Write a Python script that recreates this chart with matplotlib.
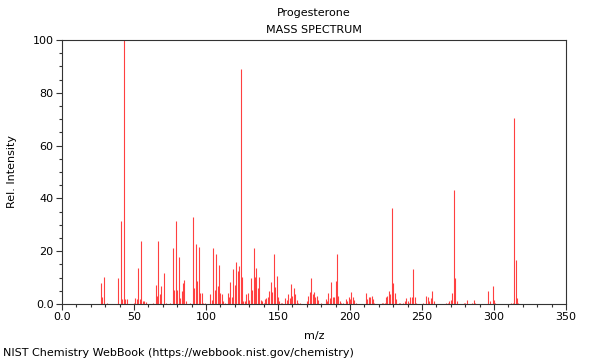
import matplotlib
matplotlib.use("Agg")
import matplotlib.pyplot as plt
from matplotlib.ticker import MultipleLocator, FixedLocator, FixedFormatter

# m/z and relative intensity
mz = [27, 28, 29, 31, 39, 41, 42, 43, 44, 45, 50, 51, 52, 53, 54, 55, 56, 57, 58,
      63, 65, 66, 67, 68, 69, 71, 72, 75, 77, 78, 79, 80, 81, 82, 83, 84, 85, 86,
      89, 91, 92, 93, 94, 95, 96, 97, 98, 99, 103, 104, 105, 106, 107, 108, 109,
      110, 111, 112, 113, 115, 116, 117, 118, 119, 120, 121, 122, 123, 124, 125,
      126, 127, 128, 129, 130, 131, 132, 133, 134, 135, 136, 137, 138, 139, 140,
      141, 142, 143, 144, 145, 146, 147, 148, 149, 150, 151, 152, 153, 155, 156,
      157, 158, 159, 160, 161, 162, 163, 164, 165, 170, 171, 172, 173, 174, 175,
      176, 177, 178, 180, 183, 184, 185, 186, 187, 188, 189, 190, 191, 192, 193,
      194, 195, 197, 198, 199, 200, 201, 202, 203, 204, 211, 212, 213, 214, 215,
      216, 217, 222, 223, 224, 225, 226, 227, 228, 229, 230, 231, 232, 234, 235,
      237, 238, 239, 240, 241, 242, 243, 244, 245, 246, 251, 253, 254, 255, 256,
      257, 258, 267, 268, 269, 270, 271, 272, 273, 274, 279, 280, 281, 285, 286,
      287, 296, 297, 299, 300, 301, 312, 313, 314, 315, 316, 317]
intensity = [7.8, 2.8, 10.1, 0.5, 9.8, 31.6, 2.0, 100, 2.0, 2.0, 0.5, 2.3, 2.0, 13.6,
             2.0, 24.0, 1.0, 1.0, 0.8, 0.5, 7.3, 3.0, 23.7, 3.8, 6.8, 11.6, 0.5, 0.5,
             21.2, 5.3, 31.6, 5.3, 17.7, 2.3, 4.8, 7.8, 9.1, 1.0, 0.5, 33.0, 6.0,
             22.7, 8.6, 21.7, 4.0, 4.0, 0.5, 0.5, 3.8, 1.5, 21.2, 5.3, 18.9, 6.8,
             14.6, 4.0, 3.8, 1.0, 0.5, 4.3, 2.5, 8.3, 2.8, 13.4, 7.3, 15.9, 12.6,
             14.4, 88.9, 10.3, 1.0, 1.0, 3.8, 4.0, 1.5, 9.8, 5.3, 21.2, 10.1, 13.6,
             6.0, 10.1, 1.5, 1.0, 0.5, 2.0, 2.3, 2.5, 4.8, 8.3, 4.5, 19.0, 6.3, 10.6,
             2.5, 1.0, 0.5, 0.5, 2.3, 1.5, 3.8, 2.3, 7.6, 3.0, 6.0, 3.8, 1.5, 0.5,
             0.5, 1.0, 3.2, 4.5, 9.8, 3.8, 4.5, 2.5, 3.2, 1.5, 0.5, 2.0, 1.0, 4.0,
             2.3, 8.3, 2.8, 2.8, 8.6, 19.0, 3.2, 1.0, 0.5, 0.5, 2.0, 1.0, 2.5, 2.0,
             4.5, 2.8, 1.5, 0.5, 4.0, 2.0, 2.8, 2.5, 3.0, 2.0, 0.5, 0.5, 0.5, 0.5,
             2.5, 3.0, 4.8, 3.8, 36.4, 7.8, 4.3, 2.0, 0.5, 0.5, 0.5, 1.0, 2.3, 1.0,
             0.5, 2.8, 2.8, 13.1, 2.8, 0.5, 0.5, 3.0, 2.8, 1.0, 2.3, 4.8, 1.0, 0.5,
             0.5, 1.0, 1.5, 4.0, 43.2, 9.8, 1.0, 0.5, 0.5, 1.5, 0.5, 1.5, 0.5, 4.8,
             1.0, 6.8, 1.5, 0.5, 0.5, 0.5, 70.4, 16.7, 2.3, 0.5]

x_ticks = [0, 50, 100, 150, 200, 250, 300, 350]
x_labels = ["0.0", "50", "100", "150", "200", "250", "300", "350"]
y_ticks = [0, 20, 40, 60, 80, 100]
y_labels = ["0.0", "20", "40", "60", "80", "100"]

plt.rcParams["font.family"] = "DejaVu Sans"
plt.rcParams["font.size"] = 8

fig = plt.figure(figsize=(6, 3.6), dpi=100)
ax = fig.add_axes([62 / 600, 1 - 304 / 360, 504 / 600, 264 / 360])

ax.vlines(mz, 0, intensity, colors="#ff4040", linewidth=0.8)

ax.set_xlim(0, 350)
ax.set_ylim(0, 100)
ax.xaxis.set_major_locator(FixedLocator(x_ticks))
ax.xaxis.set_major_formatter(FixedFormatter(x_labels))
ax.yaxis.set_major_locator(FixedLocator(y_ticks))
ax.yaxis.set_major_formatter(FixedFormatter(y_labels))
ax.xaxis.set_minor_locator(MultipleLocator(10))
ax.yaxis.set_minor_locator(MultipleLocator(5))
ax.tick_params(which="major", length=4, width=0.8, color="#333333", labelsize=8, pad=2)
ax.tick_params(which="minor", length=2.5, width=0.8, color="#333333")
for s in ax.spines.values():
    s.set_color("#333333")
    s.set_linewidth(0.8)

ax.set_xlabel("m/z", fontsize=8, labelpad=6)
ax.set_ylabel("Rel. Intensity", fontsize=8, labelpad=11)

fig.text(314 / 600, 1 - 13 / 360, "Progesterone", ha="center", va="center", fontsize=8)
fig.text(314 / 600, 1 - 30 / 360, "MASS SPECTRUM", ha="center", va="center", fontsize=8)
fig.text(3 / 600, 1 - 353 / 360, "NIST Chemistry WebBook (https://webbook.nist.gov/chemistry)",
         ha="left", va="center", fontsize=8)

fig.savefig("out.png", dpi=100)
